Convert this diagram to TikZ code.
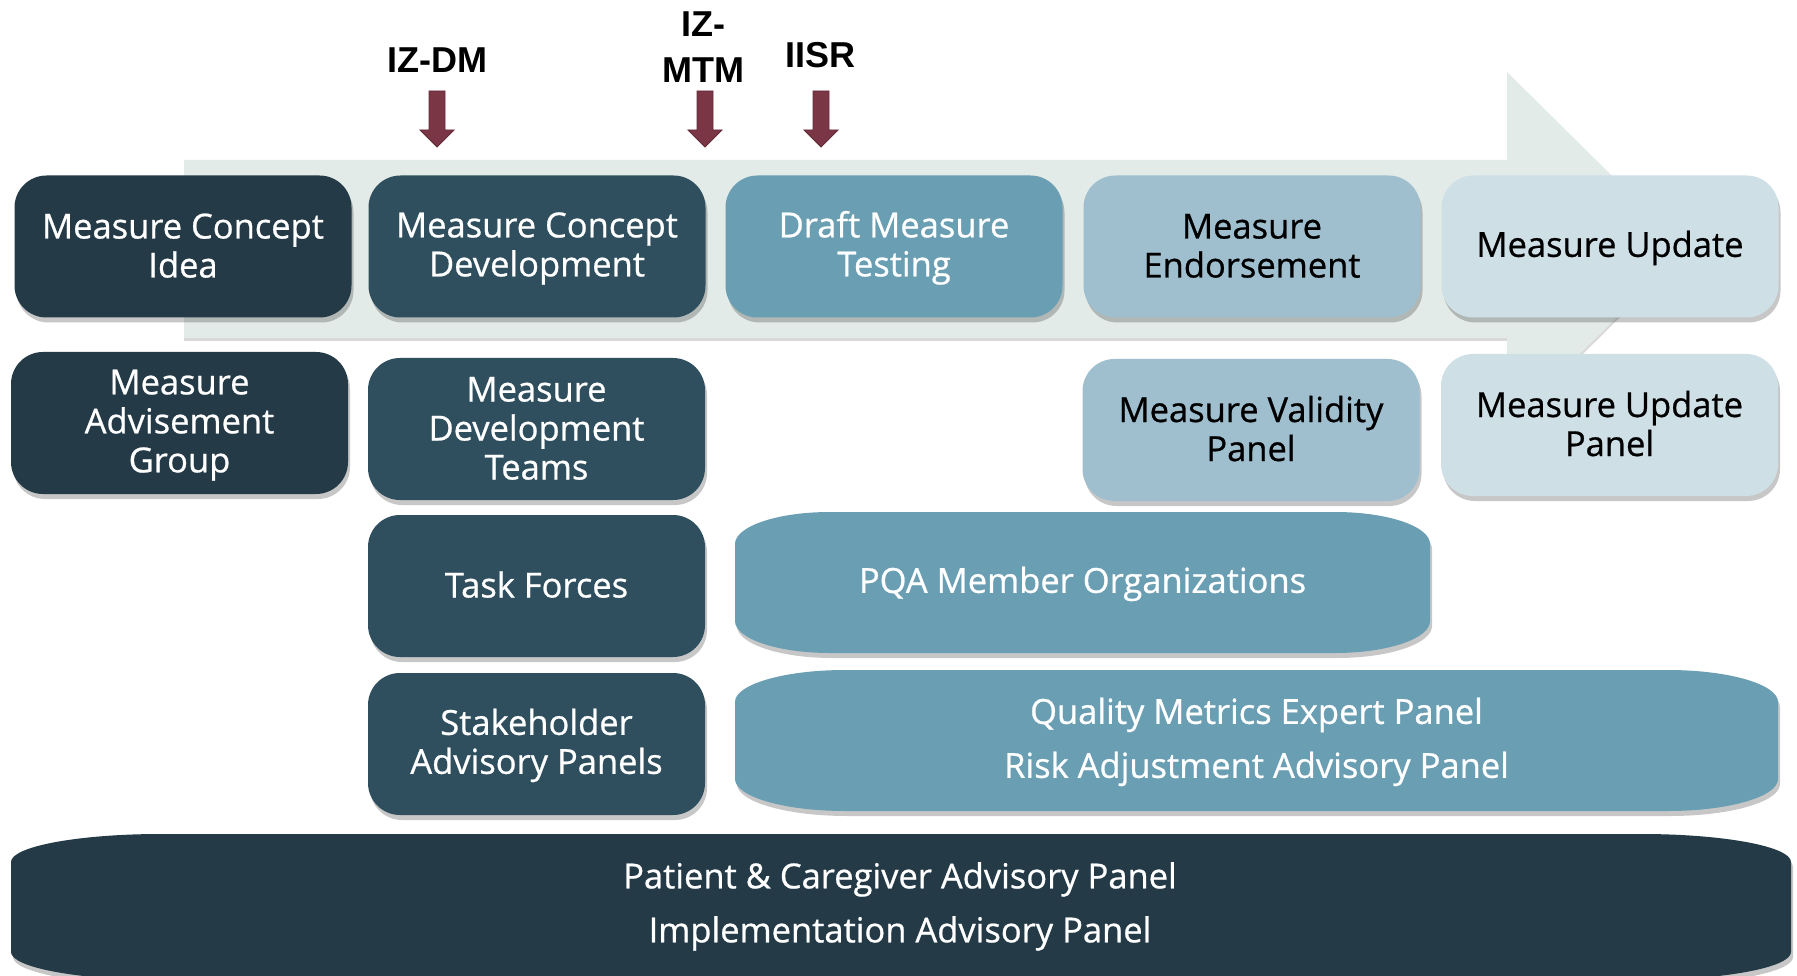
\documentclass[tikz,border=0pt]{standalone}
\usepackage{fontspec}
\setmainfont{Open Sans}[FakeBold=0.7]
\newfontfamily\lblfont{Liberation Sans}
\usetikzlibrary{shadows}
\definecolor{cA}{HTML}{243A46}
\definecolor{cB}{HTML}{2F4F5E}
\definecolor{cC}{HTML}{6A9EB3}
\definecolor{cD}{HTML}{9FBFCF}
\definecolor{cE}{HTML}{CFDFE6}
\definecolor{cBg}{HTML}{E2EBE7}
\definecolor{cRed}{HTML}{7B3646}
\newcommand\ts{\rule{0pt}{29pt}}
\newcommand\bs{\rule[-6pt]{0pt}{6pt}}
\begin{document}
\begin{tikzpicture}[x=1pt,y=-1pt,
  shd/.style={drop shadow={shadow xshift=2pt,shadow yshift=-5pt,opacity=0.22,fill=black}},
  box/.style={shd,rounded corners=32,minimum width=337,minimum height=142,inner sep=0,align=center,
    font=\fontsize{34.5}{39}\selectfont},
  boxw/.style={box,text=white},
  boxk/.style={box,text=black},
  wide/.style={text=white,align=center,inner sep=0,font=\fontsize{34.5}{54}\selectfont},
  lbl/.style={font=\lblfont\bfseries\fontsize{36}{46}\selectfont,align=center,inner sep=0,anchor=base},
  redarr/.style={fill=cRed,draw=cRed!80!black,line width=0.8},
  erect/.style n args={6}{insert path={(#1+#5,#2) -- (#3-#5,#2)
     arc[start angle=-90,end angle=0,x radius=#5,y radius=#6] -- (#3,#4-#6)
     arc[start angle=0,end angle=90,x radius=#5,y radius=#6] -- (#1+#5,#4)
     arc[start angle=90,end angle=180,x radius=#5,y radius=#6] -- (#1,#2+#6)
     arc[start angle=180,end angle=270,x radius=#5,y radius=#6] -- cycle}}
]
\useasboundingbox[fill=white] (0,0) rectangle (1797,976);
\clip (0,0) rectangle (1797,976);

% background process arrow
\fill[cBg,drop shadow={shadow xshift=0pt,shadow yshift=-3pt,opacity=0.15,fill=black}]
  (184,160) -- (1507,160) -- (1507,72) -- (1686,249) -- (1507,426) -- (1507,338) -- (184,338) -- cycle;

% labels and red arrows
\node[lbl] (lDM) at (437,73) {IZ-DM};
\node[lbl] (lMTM) at (703,83) {IZ-\\MTM};
\node[lbl] (lISR) at (820,68) {IISR};
\foreach \n/\cx in {aDM/437,aMTM/705,aISR/821}{
  \coordinate (\n) at (\cx,147);
  \draw[redarr] ([xshift=-8]\n |- 0,91) -- ([xshift=8]\n |- 0,91) -- ([xshift=8]\n |- 0,130)
    -- ([xshift=17]\n |- 0,130) -- (\n) -- ([xshift=-17]\n |- 0,130) -- ([xshift=-8]\n |- 0,130) -- cycle;
}

% row 1
\node[boxw,fill=cA] (b1) at (183,246.5) {\ts Measure Concept\\Idea\bs};
\node[boxw,fill=cB] (b2) at (537,246.5) {\ts Measure Concept\\Development\bs};
\node[boxw,fill=cC] (b3) at (894,246.5) {\ts Draft Measure\\Testing\bs};
\node[boxk,fill=cD] (b4) at (1252,246.5) {\ts Measure\\Endorsement\bs};
\node[boxk,fill=cE] (b5) at (1610,246.5) {\ts Measure Update\bs};

% row 2
\node[boxw,fill=cA] (mag) at (179.5,423) {\ts Measure\\Advisement\\Group\bs};
\node[boxw,fill=cB] (mdt) at (536.5,429) {\ts Measure\\Development\\Teams\bs};
\node[boxk,fill=cD] (mvp) at (1251,430) {\ts Measure Validity\\Panel\bs};
\node[boxk,fill=cE] (mup) at (1609.5,425) {\ts Measure Update\\Panel\bs};

% row 3
\node[boxw,fill=cB] (tf) at (536.5,586) {\ts Task Forces\bs};
\path[fill=cC,shd,erect={735}{512}{1430}{653}{95}{32}];
\node[wide] (pqa) at (1082.5,582.5) {\ts PQA Member Organizations\bs};

% row 4
\node[boxw,fill=cB] (sap) at (536.5,744) {\ts Stakeholder\\Advisory Panels\bs};
\path[fill=cC,shd,erect={735}{670}{1778}{811}{110}{32}];
\node[wide] (qm) at (1256.5,740.5) {\ts Quality Metrics Expert Panel\\Risk Adjustment Advisory Panel\bs};

% row 5
\path[fill=cA,shd,erect={11}{834}{1791}{980}{150}{28}];
\node[wide] (pc) at (900,905) {\ts Patient \& Caregiver Advisory Panel\\Implementation Advisory Panel\bs};
\end{tikzpicture}
\end{document}
